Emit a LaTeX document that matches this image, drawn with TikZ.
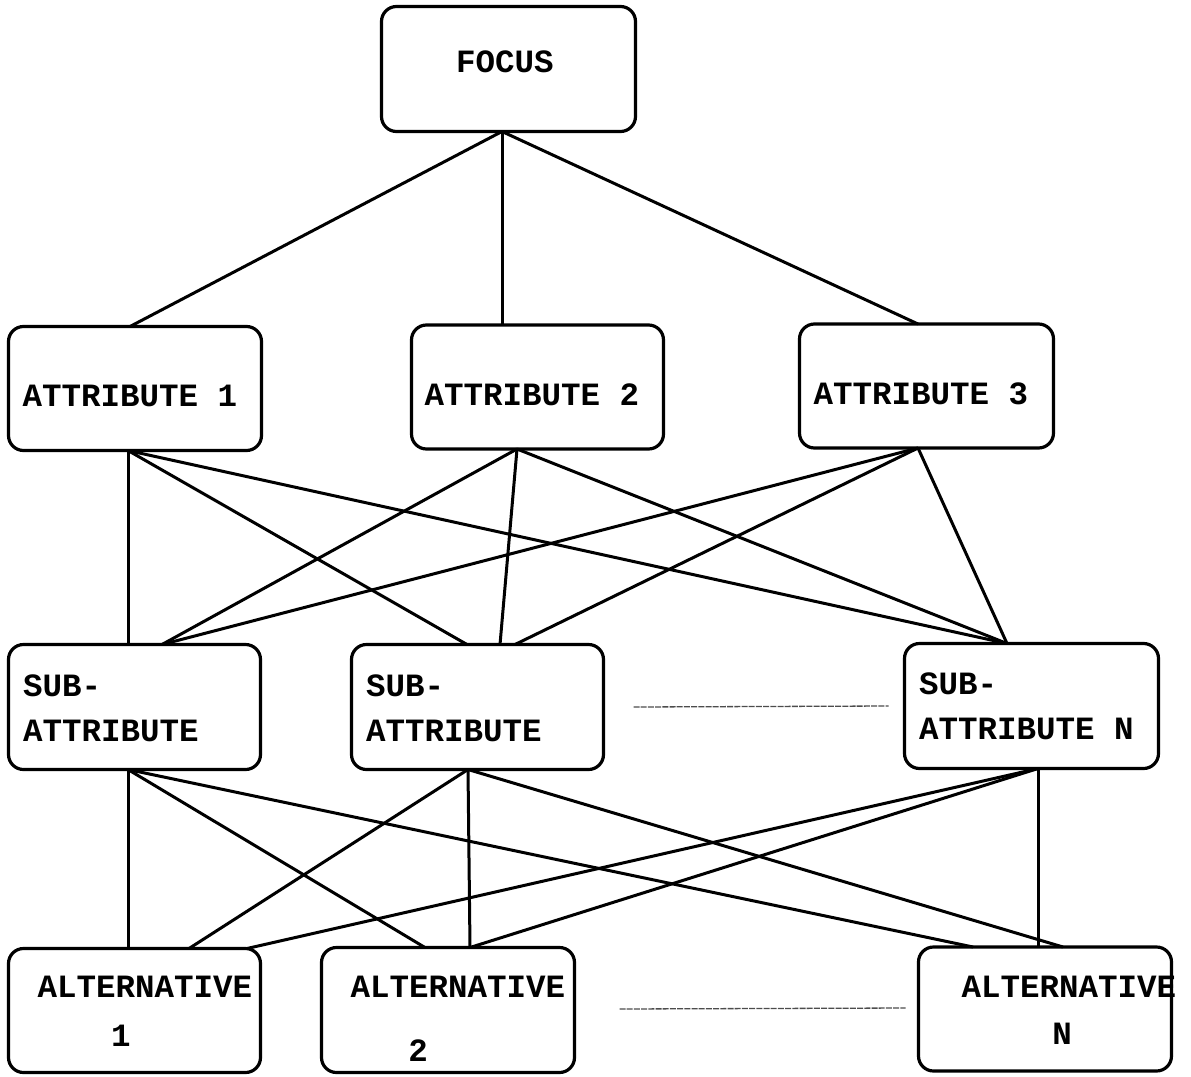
\documentclass[tikz,border=0pt]{standalone}
\usepackage{fontspec}
\setmainfont{Liberation Mono}[BoldFont={Liberation Mono Bold}]
\begin{document}
\begin{tikzpicture}[x=1pt,y=-1pt,
  box/.style={draw,line width=3.2pt,rounded corners=15pt,inner sep=0pt,outer sep=0pt,
    minimum width=#1,minimum height=124pt},
  box/.default=253pt,
  lbl/.style={inner sep=0pt,font=\fontsize{32.5}{36}\selectfont\bfseries},
  conn/.style={line width=3pt},
  dots/.style={line width=1.3pt,gray!60!black,dash pattern=on 6pt off 1.2pt}]
\useasboundingbox (0,0) rectangle (1191,1076);
\fill[white] (0,0) rectangle (1191,1076);
% boxes
\node[box=254pt,minimum height=125pt] (focus) at (508.5,69) {};
\node[box] (a1) at (135,388.5) {};
\node[box=252pt] (a2) at (537.5,387) {};
\node[box=254pt] (a3) at (926.5,386) {};
\node[box=252pt,minimum height=125pt] (s1) at (134.5,707) {};
\node[box=252pt,minimum height=125pt] (s2) at (477.5,707) {};
\node[box=254pt,minimum height=125pt] (sn) at (1031.5,706) {};
\node[box=252pt] (alt1) at (134.5,1010.5) {};
\node[box,minimum height=125pt] (alt2) at (448,1010) {};
\node[box] (altn) at (1045,1009) {};
% labels
\node[lbl] (tfocus) at (505,62) {FOCUS};
\node[lbl] (ta1) at (130,396) {ATTRIBUTE 1};
\node[lbl] (ta2) at (532,395) {ATTRIBUTE 2};
\node[lbl] (ta3) at (921,394) {ATTRIBUTE 3};
\node[lbl,anchor=west] (ts1a) at (23,686) {SUB-};
\node[lbl,anchor=west] (ts1b) at (23,731) {ATTRIBUTE};
\node[lbl,anchor=west] (ts2a) at (366,686) {SUB-};
\node[lbl,anchor=west] (ts2b) at (366,731) {ATTRIBUTE};
\node[lbl,anchor=west] (tsna) at (919,684) {SUB-};
\node[lbl,anchor=west] (tsnb) at (919,729) {ATTRIBUTE N};
\node[lbl] (talt1a) at (145,987) {ALTERNATIVE};
\node[lbl] (talt1b) at (121,1036) {1};
\node[lbl] (talt2a) at (458,987) {ALTERNATIVE};
\node[lbl] (talt2b) at (418,1051) {2};
\node[lbl] (taltna) at (1069,987) {ALTERNATIVE};
\node[lbl] (taltnb) at (1062,1034) {N};
% focus to attributes
\draw[conn] ([xshift=120.5pt]focus.south west) -- ([xshift=121.5pt]a1.north west);
\draw[conn] ([xshift=120.5pt]focus.south west) -- ([xshift=90.5pt]a2.north west);
\draw[conn] ([xshift=120.5pt]focus.south west) -- ([xshift=118.5pt]a3.north west);
% attributes to sub-attributes
\draw[conn] ([xshift=119.5pt]a1.south west) -- ([xshift=119.5pt]s1.north west);
\draw[conn] ([xshift=119.5pt]a1.south west) -- ([xshift=115.5pt]s2.north west);
\draw[conn] ([xshift=119.5pt]a1.south west) -- ([xshift=102.5pt]sn.north west);
\draw[conn] ([xshift=105.5pt]a2.south west) -- ([xshift=153.5pt]s1.north west);
\draw[conn] ([xshift=105.5pt]a2.south west) -- ([xshift=148.5pt]s2.north west);
\draw[conn] ([xshift=105.5pt]a2.south west) -- ([xshift=102.5pt]sn.north west);
\draw[conn] ([xshift=118.5pt]a3.south west) -- ([xshift=153.5pt]s1.north west);
\draw[conn] ([xshift=118.5pt]a3.south west) -- ([xshift=163.5pt]s2.north west);
\draw[conn] ([xshift=118.5pt]a3.south west) -- ([xshift=102.5pt]sn.north west);
% sub-attributes to alternatives
\draw[conn] ([xshift=119.5pt]s1.south west) -- ([xshift=119.5pt]alt1.north west);
\draw[conn] ([xshift=119.5pt]s1.south west) -- ([xshift=103.5pt]alt2.north west);
\draw[conn] ([xshift=119.5pt]s1.south west) -- ([xshift=54.5pt]altn.north west);
\draw[conn] ([xshift=116.5pt]s2.south west) -- ([xshift=180.5pt]alt1.north west);
\draw[conn] ([xshift=116.5pt]s2.south west) -- ([xshift=148.5pt]alt2.north west);
\draw[conn] ([xshift=116.5pt]s2.south west) -- ([xshift=144.5pt]altn.north west);
\draw[conn] ([xshift=133.5pt]sn.south west) -- ([xshift=238.5pt]alt1.north west);
\draw[conn] ([xshift=133.5pt]sn.south west) -- ([xshift=148.5pt]alt2.north west);
\draw[conn] ([xshift=133.5pt]sn.south west) -- ([xshift=119.5pt]altn.north west);
% ellipsis lines
\draw[dots] ([xshift=30pt]s2.east) -- ([xshift=-16pt]sn.west);
\draw[dots] ([xshift=45pt,yshift=1pt]alt2.east) -- ([xshift=-13pt,yshift=1pt]altn.west);
\end{tikzpicture}
\end{document}
